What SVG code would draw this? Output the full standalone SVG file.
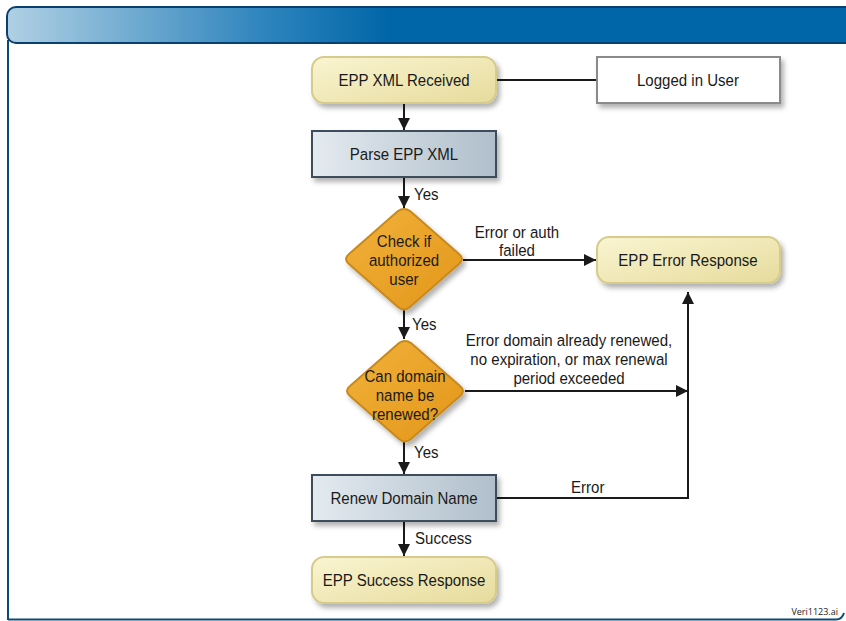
<svg xmlns="http://www.w3.org/2000/svg" width="846" height="621" viewBox="0 0 846 621">
<defs>
<style>
text{font-family:"Liberation Sans",Arial,sans-serif;fill:#1a1a1a;font-size:17px;}
.m{text-anchor:middle;}
.term{fill:url(#gy);stroke:#d6cb8a;stroke-width:2;}
.proc{fill:url(#gb);stroke:#3d4d5c;stroke-width:2;}
.dec{fill:url(#go);stroke:#c8891c;stroke-width:2;stroke-linejoin:round;}
.ext{fill:#ffffff;stroke:#8a8a8a;stroke-width:2;}
.cn{fill:none;stroke:#1a1a1a;stroke-width:2;}
</style>
<linearGradient id="hdr" x1="0" y1="0" x2="1" y2="0">
<stop offset="0" stop-color="#b0d0e4"/>
<stop offset="0.3" stop-color="#2f85bd"/>
<stop offset="0.45" stop-color="#0066a8"/>
<stop offset="1" stop-color="#0066a8"/>
</linearGradient>
<linearGradient id="gy" x1="0" y1="0" x2="1" y2="1">
<stop offset="0" stop-color="#faf5d2"/>
<stop offset="1" stop-color="#e6db9c"/>
</linearGradient>
<linearGradient id="gb" x1="0" y1="0" x2="1" y2="0">
<stop offset="0" stop-color="#e4eaf0"/>
<stop offset="1" stop-color="#b0bfcb"/>
</linearGradient>
<linearGradient id="go" x1="0" y1="0" x2="1" y2="1">
<stop offset="0" stop-color="#f2b23a"/>
<stop offset="1" stop-color="#e2961a"/>
</linearGradient>
<filter id="sh" x="-20%" y="-20%" width="150%" height="160%">
<feDropShadow dx="3" dy="4" stdDeviation="2.5" flood-color="#000" flood-opacity="0.3"/>
</filter>
<marker id="ar" viewBox="0 0 10 10" refX="10" refY="5" markerWidth="6" markerHeight="6" orient="auto" markerUnits="strokeWidth">
<path d="M0,0 L10,5 L0,10 z" fill="#1a1a1a"/>
</marker>
</defs>
<rect width="846" height="621" fill="#ffffff"/>
<g id="frame">
<path d="M8,40 L8,620 M8,619.5 L836,619.5 Q842,619.5 844,613" fill="none" stroke="#0a4a78" stroke-width="2"/>
<rect x="7" y="7" width="850" height="36" rx="9" fill="url(#hdr)" stroke="#0a4070" stroke-width="2"/>
<text x="838" y="615" style="font-family:'Open Sans','Liberation Sans',sans-serif;font-size:9px;text-anchor:end;fill:#222">Veri1123.ai</text>
</g>
<g id="connectors">
<line class="cn" x1="496" y1="80" x2="597" y2="80"/>
<line class="cn" x1="404" y1="103" x2="404" y2="130" marker-end="url(#ar)"/>
<line class="cn" x1="404" y1="177" x2="404" y2="208" marker-end="url(#ar)"/>
<line class="cn" x1="463" y1="260" x2="596" y2="260" marker-end="url(#ar)"/>
<line class="cn" x1="404" y1="310" x2="404" y2="339" marker-end="url(#ar)"/>
<line class="cn" x1="465" y1="391" x2="688" y2="391" marker-end="url(#ar)"/>
<line class="cn" x1="404" y1="442" x2="404" y2="474" marker-end="url(#ar)"/>
<polyline class="cn" points="496,498 688,498 688,292" marker-end="url(#ar)"/>
<line class="cn" x1="404" y1="521" x2="404" y2="556" marker-end="url(#ar)"/>
<text transform="translate(414,200) scale(0.885,1)">Yes</text>
<text class="m" transform="translate(517,238) scale(0.885,1)">Error or auth</text>
<text class="m" transform="translate(517,256) scale(0.885,1)">failed</text>
<text transform="translate(412,330) scale(0.885,1)">Yes</text>
<text class="m" transform="translate(569,346) scale(0.885,1)">Error domain already renewed,</text>
<text class="m" transform="translate(569,365) scale(0.885,1)">no expiration, or max renewal</text>
<text class="m" transform="translate(569,384) scale(0.885,1)">period exceeded</text>
<text transform="translate(414,458) scale(0.885,1)">Yes</text>
<text transform="translate(571,493) scale(0.885,1)">Error</text>
<text transform="translate(415,544) scale(0.885,1)">Success</text>
</g>
<g id="n-received">
<rect class="term" x="312" y="57" width="184" height="46" rx="12" filter="url(#sh)"/>
<text class="m" transform="translate(404,86) scale(0.885,1)">EPP XML Received</text>
</g>
<g id="n-logged">
<rect class="ext" x="597" y="57" width="183" height="46" filter="url(#sh)"/>
<text class="m" transform="translate(688,86) scale(0.885,1)">Logged in User</text>
</g>
<g id="n-parse">
<rect class="proc" x="312" y="131" width="184" height="46" filter="url(#sh)"/>
<text class="m" transform="translate(404,160) scale(0.885,1)">Parse EPP XML</text>
</g>
<g id="n-check">
<path class="dec" d="M398,211 Q404,207 410,211 L459,254 Q465,259 459,264 L410,307 Q404,312 398,307 L349,264 Q343,259 349,254 Z" filter="url(#sh)"/>
<text class="m" transform="translate(404,247) scale(0.885,1)">Check if</text>
<text class="m" transform="translate(404,266) scale(0.885,1)">authorized</text>
<text class="m" transform="translate(404,285) scale(0.885,1)">user</text>
</g>
<g id="n-renewable">
<path class="dec" d="M399,343 Q405,339 411,343 L460,386 Q466,391 460,396 L411,439 Q405,444 399,439 L350,396 Q344,391 350,386 Z" filter="url(#sh)"/>
<text class="m" transform="translate(405,382) scale(0.885,1)">Can domain</text>
<text class="m" transform="translate(405,401) scale(0.885,1)">name be</text>
<text class="m" transform="translate(405,420) scale(0.885,1)">renewed?</text>
</g>
<g id="n-error">
<rect class="term" x="597" y="237" width="183" height="46" rx="12" filter="url(#sh)"/>
<text class="m" transform="translate(688,266) scale(0.885,1)">EPP Error Response</text>
</g>
<g id="n-renew">
<rect class="proc" x="312" y="475" width="184" height="46" filter="url(#sh)"/>
<text class="m" transform="translate(404,504) scale(0.885,1)">Renew Domain Name</text>
</g>
<g id="n-success">
<rect class="term" x="312" y="557" width="184" height="46" rx="12" filter="url(#sh)"/>
<text class="m" transform="translate(404,586) scale(0.885,1)">EPP Success Response</text>
</g>
</svg>
